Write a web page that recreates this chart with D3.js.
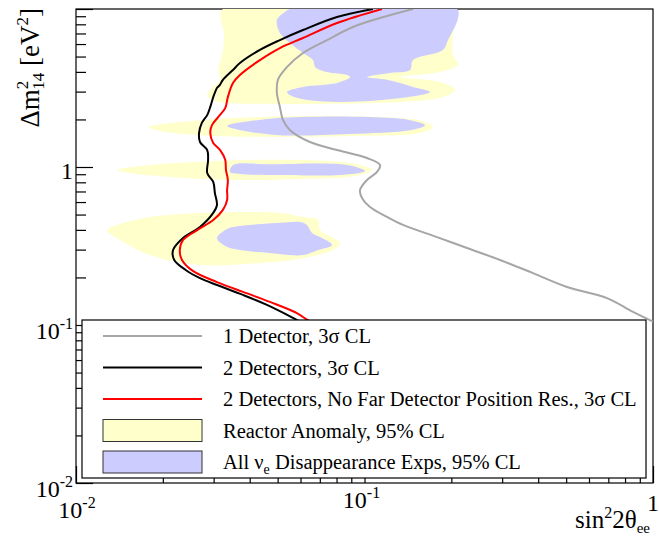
<!DOCTYPE html>
<html><head><meta charset="utf-8">
<script src="https://cdn.jsdelivr.net/npm/d3@7"></script>
<style>
body{margin:0;background:#fff;}
svg{display:block;font-family:"Liberation Serif","Times New Roman",serif;}
</style>
</head><body>
<svg id="c" width="659" height="538"></svg>
<script>
// ---- data: [sin^2 2theta_ee, dm^2_14 (eV^2)] ----
const oneDetector = [
  [0.1473,10],[0.1132,8.77],[0.0912,7.69],[0.0741,6.36],[0.0612,5.27],[0.0539,4.30],
  [0.0501,3.56],[0.0497,2.94],[0.0509,2.40],[0.0522,1.98],[0.0552,1.71],[0.0647,1.44],
  [0.0803,1.28],[0.1020,1.14],[0.1132,1.03],[0.1105,0.930],[0.1020,0.828],[0.0965,0.715],
  [0.0980,0.637],[0.1045,0.558],[0.1197,0.483],[0.1360,0.430],[0.1784,0.360],[0.2266,0.307],
  [0.2950,0.258],[0.3838,0.213],[0.5035,0.174],[0.6929,0.148],[0.8526,0.121],[1.0,0.105]
];
const twoDetectors = [
  [0.1070,10],[0.0803,8.90],[0.0612,7.36],[0.0509,6.36],[0.0434,5.51],[0.0370,4.55],
  [0.0350,4.11],[0.0323,3.56],[0.0315,3.30],[0.0308,3.16],[0.0304,3.00],[0.0299,2.77],[0.0295,2.55],[0.0292,2.40],
  [0.0285,2.13],[0.0278,2.00],[0.0273,1.90],[0.0267,1.64],[0.0269,1.44],[0.0285,1.28],[0.0287,1.11],
  [0.0285,0.916],[0.0299,0.804],[0.0303,0.684],[0.0308,0.574],[0.0299,0.512],[0.0269,0.417],
  [0.0235,0.355],[0.0217,0.298],[0.0219,0.258],[0.0240,0.223],[0.0269,0.198],[0.0308,0.179],
  [0.0379,0.155],[0.0459,0.134],[0.0565,0.111],[0.0598,0.105]
];
const twoDetectorsNoFarRes = [
  [0.1150,10],[0.0803,8.15],[0.0612,6.55],[0.0509,5.66],[0.0434,4.75],[0.0370,3.82],
  [0.0350,3.40],[0.0336,2.77],[0.0329,2.36],[0.0311,2.07],[0.0296,1.84],[0.0292,1.64],
  [0.0299,1.42],[0.0316,1.28],[0.0329,1.11],[0.0331,0.957],[0.0336,0.828],[0.0334,0.715],
  [0.0334,0.618],[0.0323,0.535],[0.0299,0.462],[0.0263,0.399],[0.0235,0.345],[0.0229,0.298],
  [0.0233,0.258],[0.0254,0.220],[0.0308,0.187],[0.0379,0.162],[0.0470,0.140],[0.0583,0.119],
  [0.0632,0.108],[0.0658,0.104]
];
const reactorAnomaly = [
  [[0.0323,10],[0.2076,10],[0.2027,7.05],[0.2027,5.12],[0.2110,4.43],[0.1827,3.99],[0.1328,3.71],
   [0.1827,3.45],[0.2060,3.07],[0.1827,2.74],[0.1328,2.58],[0.0759,2.51],[0.0434,2.51],
   [0.0303,2.62],[0.0285,2.86],[0.0296,3.16],[0.0316,3.56],[0.0311,4.11],[0.0321,5.12],[0.0326,6.84]],
  [[0.01777,1.79],[0.02691,1.98],[0.04343,2.07],[0.0759,2.10],[0.1328,2.04],[0.1621,1.93],
   [0.1728,1.79],[0.1557,1.64],[0.0891,1.57],[0.0470,1.55],[0.02691,1.59],[0.01955,1.69]],
  [[0.01388,0.957],[0.01805,1.03],[0.02691,1.08],[0.04343,1.11],[0.0759,1.09],[0.0965,1.03],
   [0.1062,0.957],[0.0927,0.877],[0.0598,0.839],[0.0342,0.828],[0.02118,0.865],[0.01539,0.916]],
  [[0.01281,0.399],[0.01388,0.430],[0.01805,0.483],[0.02691,0.512],[0.0509,0.512],[0.0612,0.483],
   [0.0690,0.462],[0.0701,0.399],[0.0823,0.330],[0.0778,0.298],[0.0612,0.265],[0.0470,0.250],
   [0.02691,0.240],[0.01805,0.277],[0.01421,0.345]]
];
const allDisappearance = [
  [[0.0552,10],[0.2093,10],[0.2110,8.77],[0.1948,6.36],[0.1871,5.51],[0.1473,4.75],[0.1438,4.11],
   [0.1226,3.94],[0.1020,3.71],[0.1197,3.56],[0.1473,3.21],[0.1687,2.98],[0.1360,2.74],
   [0.0803,2.58],[0.0583,2.74],[0.0539,2.98],[0.0612,3.21],[0.0803,3.40],[0.0891,3.71],
   [0.0870,3.82],[0.0741,3.99],[0.0674,4.30],[0.0663,4.75],[0.0612,5.27],[0.0552,6.09],
   [0.0509,7.05],[0.0497,8.51],[0.0530,9.57]],
  [[0.0334,1.82],[0.0424,1.98],[0.0598,2.07],[0.1045,2.07],[0.1438,1.98],[0.1621,1.84],
   [0.1438,1.71],[0.0891,1.62],[0.0509,1.59],[0.0385,1.69]],
  [[0.0342,0.930],[0.0350,1.03],[0.0470,1.04],[0.0870,1.03],[0.1004,0.944],[0.0823,0.890],
   [0.0509,0.890],[0.0370,0.903]],
  [[0.0308,0.355],[0.0329,0.399],[0.0350,0.417],[0.0509,0.443],[0.0598,0.449],[0.0632,0.430],
   [0.0658,0.382],[0.0701,0.360],[0.0772,0.321],[0.0690,0.298],[0.0612,0.277],[0.0470,0.286],
   [0.0370,0.298],[0.0329,0.316]]
];
const xMajorTicks = [0.01, 0.1, 1];
const yMajorTicks = [0.01, 0.1, 1, 10];
const xTickLabels = [{v:0.01,base:"10",exp:"-2"},{v:0.1,base:"10",exp:"-1"},{v:1,base:"1",exp:""}];
const yTickLabels = [{v:0.01,base:"10",exp:"-2"},{v:0.1,base:"10",exp:"-1"},{v:1,base:"1",exp:""}];
const legendEntries = [
  {type:"line", color:"#a6a6a6", label:[["1 Detector, 3σ CL",""]]},
  {type:"line", color:"#000000", label:[["2 Detectors, 3σ CL",""]]},
  {type:"line", color:"#ff0000", label:[["2 Detectors, No Far Detector Position Res., 3σ CL",""]]},
  {type:"box",  color:"#ffffcc", label:[["Reactor Anomaly, 95% CL",""]]},
  {type:"box",  color:"#ccccff", label:[["All ν",""],["e","sub"],[" Disappearance Exps, 95% CL","back"]]}
];

// ---- layout ----
const svg = d3.select("#c");
const L=76, R=653, T=9, B=483;
const x = d3.scaleLog().domain([0.01,1]).range([L,R]);
const y = d3.scaleLog().domain([0.01,10]).range([B,T]);

svg.append("defs").append("clipPath").attr("id","clip")
  .append("rect").attr("x",L).attr("y",T).attr("width",R-L).attr("height",B-T);

// frame (fills drawn over it, as in the original)
svg.append("rect").attr("x",L).attr("y",T).attr("width",R-L).attr("height",B-T)
  .attr("fill","none").attr("stroke","#000").attr("stroke-width",1.2);

const plot = svg.append("g").attr("clip-path","url(#clip)");
const area = d3.line().x(d=>x(d[0])).y(d=>y(d[1])).curve(d3.curveCatmullRomClosed.alpha(0.5));
const line = d3.line().x(d=>x(d[0])).y(d=>y(d[1])).curve(d3.curveCatmullRom.alpha(0.5));

plot.selectAll("path.ra").data(reactorAnomaly).join("path").attr("class","ra")
  .attr("d",area).attr("fill","#ffffcc");
plot.selectAll("path.ad").data(allDisappearance).join("path").attr("class","ad")
  .attr("d",area).attr("fill","#ccccff");

const curves = [
  {d:oneDetector, c:"#a6a6a6", w:2},
  {d:twoDetectors, c:"#000000", w:2},
  {d:twoDetectorsNoFarRes, c:"#ff0000", w:2}
];
plot.selectAll("path.cv").data(curves).join("path").attr("class","cv")
  .attr("d",d=>line(d.d)).attr("fill","none").attr("stroke",d=>d.c).attr("stroke-width",d=>d.w)
  .attr("stroke-linejoin","round");

// minor tick values
function minors(lo, hi){ const out=[]; for(let e=lo;e<hi;e++) for(let k=2;k<=9;k++) out.push(k*Math.pow(10,e)); return out; }
function styleAxis(g){ g.select(".domain").remove(); g.selectAll("line").attr("stroke","#000").attr("stroke-width",1.2); g.selectAll("text").remove(); }

svg.append("g").attr("transform",`translate(${L},0)`)
  .call(d3.axisRight(y).tickValues(yMajorTicks).tickSize(17).tickFormat("")).call(styleAxis);
svg.append("g").attr("transform",`translate(${L},0)`)
  .call(d3.axisRight(y).tickValues(minors(-2,1)).tickSize(10).tickFormat("")).call(styleAxis);
svg.append("g").attr("transform",`translate(0,${B})`)
  .call(d3.axisTop(x).tickValues(xMajorTicks).tickSize(17).tickFormat("")).call(styleAxis);
svg.append("g").attr("transform",`translate(0,${B})`)
  .call(d3.axisTop(x).tickValues(minors(-2,0)).tickSize(10).tickFormat("")).call(styleAxis);

// tick labels
const FS=24, SUP=16;
yTickLabels.forEach(t=>{
  const txt = svg.append("text").attr("x",73).attr("y",y(t.v)+(t.exp?14:12))
    .attr("text-anchor","end").attr("font-size",FS).text(t.base);
  if(t.exp) txt.append("tspan").attr("dy",-10).attr("font-size",SUP).text(t.exp);
});
const xLabelBase = {0.01:518, 0.1:508, 1:511};
const xLabelShift = {0.01:1, 0.1:-3, 1:0};
xTickLabels.forEach(t=>{
  const txt = svg.append("text").attr("x",x(t.v)+xLabelShift[t.v]).attr("y",xLabelBase[t.v])
    .attr("text-anchor","middle").attr("font-size",FS).text(t.base);
  if(t.exp) txt.append("tspan").attr("dy",-10).attr("font-size",SUP).text(t.exp);
});

// axis titles
const xt = svg.append("text").attr("x",650).attr("y",528).attr("text-anchor","end").attr("font-size",25);
xt.append("tspan").text("sin");
xt.append("tspan").attr("dy",-10).attr("font-size",16).text("2");
xt.append("tspan").attr("dy",10).text("2θ");
xt.append("tspan").attr("dy",5).attr("font-size",15).text("ee");

const yt = svg.append("text").attr("transform","translate(39,8) rotate(-90)")
  .attr("text-anchor","end").attr("font-size",27);
yt.append("tspan").text("Δm");
yt.append("tspan").attr("dy",-11).attr("font-size",17).text("2");
yt.append("tspan").attr("dx",-9).attr("dy",16).attr("font-size",17).text("14");
yt.append("tspan").attr("dy",-5).text(" [eV");
yt.append("tspan").attr("dy",-11).attr("font-size",17).text("2");
yt.append("tspan").attr("dy",11).text("]");

// legend
const lg = svg.append("g");
lg.append("rect").attr("x",82).attr("y",320).attr("width",564).attr("height",158)
  .attr("fill","#fff").attr("stroke","#000").attr("stroke-width",1.2);
const rowY = d3.scalePoint().domain(d3.range(legendEntries.length)).range([336,462]);
legendEntries.forEach((e,i)=>{
  const cy = rowY(i);
  if(e.type==="line"){
    lg.append("line").attr("x1",103).attr("x2",202).attr("y1",cy).attr("y2",cy)
      .attr("stroke",e.color).attr("stroke-width",2);
  } else {
    lg.append("rect").attr("x",103).attr("y",cy-11).attr("width",99).attr("height",22)
      .attr("fill",e.color).attr("stroke","#333").attr("stroke-width",1);
  }
  const t = lg.append("text").attr("x",223).attr("y",cy+7).attr("font-size",20.5);
  e.label.forEach(p=>{
    const s = t.append("tspan").text(p[0]);
    if(p[1]==="sub") s.attr("dy",5).attr("font-size",14);
    else if(p[1]==="back") s.attr("dy",-5);
  });
});
</script>
</body></html>
